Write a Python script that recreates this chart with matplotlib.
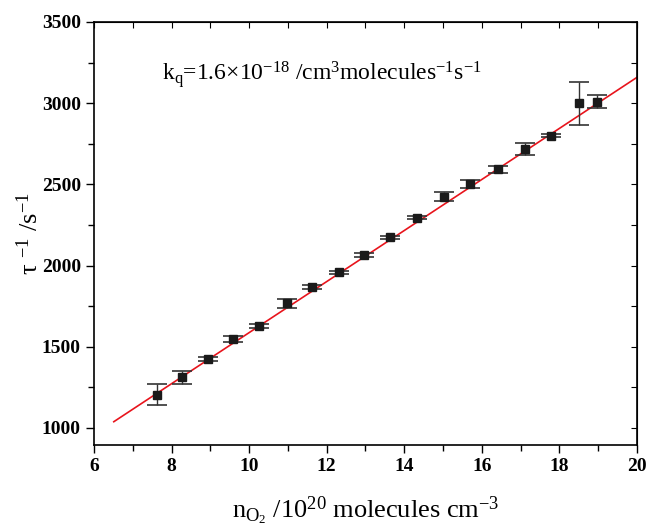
import numpy as np
import matplotlib
matplotlib.use('Agg')
import matplotlib.pyplot as plt
from matplotlib.ticker import MultipleLocator

plt.rcParams['font.family'] = 'Liberation Serif'
plt.rcParams['font.weight'] = 'bold'
plt.rcParams['mathtext.default'] = 'regular'

# O2 number density (10^20 molecules cm^-3), decay rate (s^-1) and its error
n_o2 = [7.62, 8.28, 8.95, 9.59, 10.26, 10.97, 11.61, 12.31, 12.96,
        13.64, 14.34, 15.02, 15.70, 16.41, 17.10, 17.79, 18.51, 18.98]
rate = [1205, 1312, 1425, 1548, 1628, 1768, 1866, 1959, 2065,
        2174, 2295, 2424, 2502, 2593, 2716, 2800, 3000, 3010]
rate_err = [65, 39, 10, 21, 10, 27, 12, 10, 12,
            10, 10, 29, 25, 23, 37, 8, 133, 38]

# linear fit: slope (s^-1 per 10^20 cm^-3) and intercept (s^-1)
fit_slope = 157.2
fit_icpt = 15.0
fit_range = [6.51, 20.0]

x = np.array(n_o2)
y = np.array(rate)
xfit = np.array(fit_range)

fig = plt.figure(figsize=(6.47, 5.27), dpi=100)
ax = fig.add_axes([0.1453, 0.1556, 0.8392, 0.8027])

ax.plot(xfit, fit_slope * xfit + fit_icpt, color='#e8141c', lw=1.2, zorder=2)
ax.errorbar(x, y, yerr=rate_err, fmt='s', color='#1a1a1a', ms=6,
            ecolor='#333333', elinewidth=1.0, capsize=7, capthick=1.2, zorder=3)

ax.set_xlim(6, 20)
ax.set_ylim(895, 3500)
ax.xaxis.set_major_locator(MultipleLocator(2))
ax.xaxis.set_minor_locator(MultipleLocator(1))
ax.yaxis.set_major_locator(MultipleLocator(500))
ax.yaxis.set_minor_locator(MultipleLocator(250))
ax.tick_params(which='major', direction='out', length=6, width=1, labelsize=14)
ax.tick_params(which='minor', direction='out', length=4, width=1)
for s in ax.spines.values():
    s.set_linewidth(1.2)

# inward ticks on the top and right frame
top = ax.secondary_xaxis('top')
top.xaxis.set_major_locator(MultipleLocator(1))
top.tick_params(direction='in', length=4, labeltop=False)
right = ax.secondary_yaxis('right')
right.yaxis.set_major_locator(MultipleLocator(250))
right.tick_params(direction='in', length=4, labelright=False)

ax.set_xlabel('n$_{O_2}$ /10$^{20}$ molecules cm$^{-3}$', fontsize=19, labelpad=14)
ax.set_ylabel('τ $^{-1}$ /s$^{-1}$', fontsize=19, labelpad=-1)

ax.text(7.75, 3143, 'k$_q$=1.6×10$^{-18}$ /cm$^3$molecules$^{-1}$s$^{-1}$',
        fontsize=17, fontweight='normal')

plt.savefig('out.png', dpi=100)
